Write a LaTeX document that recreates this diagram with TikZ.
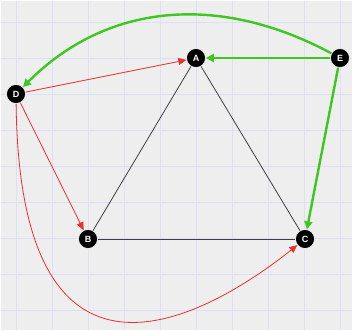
\documentclass[tikz,border=0pt]{standalone}
\usepackage{fontspec}
\setmainfont{Liberation Sans}
\usetikzlibrary{arrows.meta}

\definecolor{paper}{HTML}{EEEEEE}
\definecolor{gridline}{HTML}{DEDEF4}
\definecolor{edgered}{HTML}{E8302E}
\definecolor{edgegreen}{HTML}{3CC81E}

\tikzset{
  vertex/.style={circle, fill=black, draw=white, line width=0.6pt, minimum size=19pt, inner sep=0pt,
    text=white, font=\fontsize{9}{9}\selectfont\bfseries},
  plain/.style={draw=black!75, line width=0.8pt},
  redarc/.style={draw=edgered, line width=0.8pt, -{Triangle[length=8pt, width=7pt]}},
  greenarc/.style={draw=edgegreen, line width=2.4pt, -{Triangle[length=8pt, width=8pt]}}
}

\begin{document}
\begin{tikzpicture}[x=1pt, y=-1pt]
  \useasboundingbox (0,0) rectangle (353,331);
  \fill[paper] (1,1) rectangle (352,330);
  % grid
  \foreach \gx in {16,52,...,340} \draw[gridline, line width=0.5pt] (\gx,1) -- (\gx,330);
  \foreach \gy in {22,58,...,320} \draw[gridline, line width=0.5pt] (1,\gy) -- (352,\gy);

  \node[vertex] (A) at (196,58) {A};
  \node[vertex] (B) at (88,239) {B};
  \node[vertex] (C) at (305,239) {C};
  \node[vertex] (D) at (16,94) {D};
  \node[vertex] (E) at (340,58) {E};

  \draw[plain] (A) -- (B);
  \draw[plain] (A) -- (C);
  \draw[plain] (B) -- (C);

  \draw[redarc] (D) -- (A);
  \draw[redarc] (D) -- (B);
  \draw[redarc] (D) .. controls +(4,350) and +(-74,59) .. (C);

  \draw[greenarc] (E) -- (A);
  \draw[greenarc] (E) -- (C);
  \draw[greenarc] (E) .. controls +(-115,-62) and +(95,-95) .. (D);
\end{tikzpicture}
\end{document}
